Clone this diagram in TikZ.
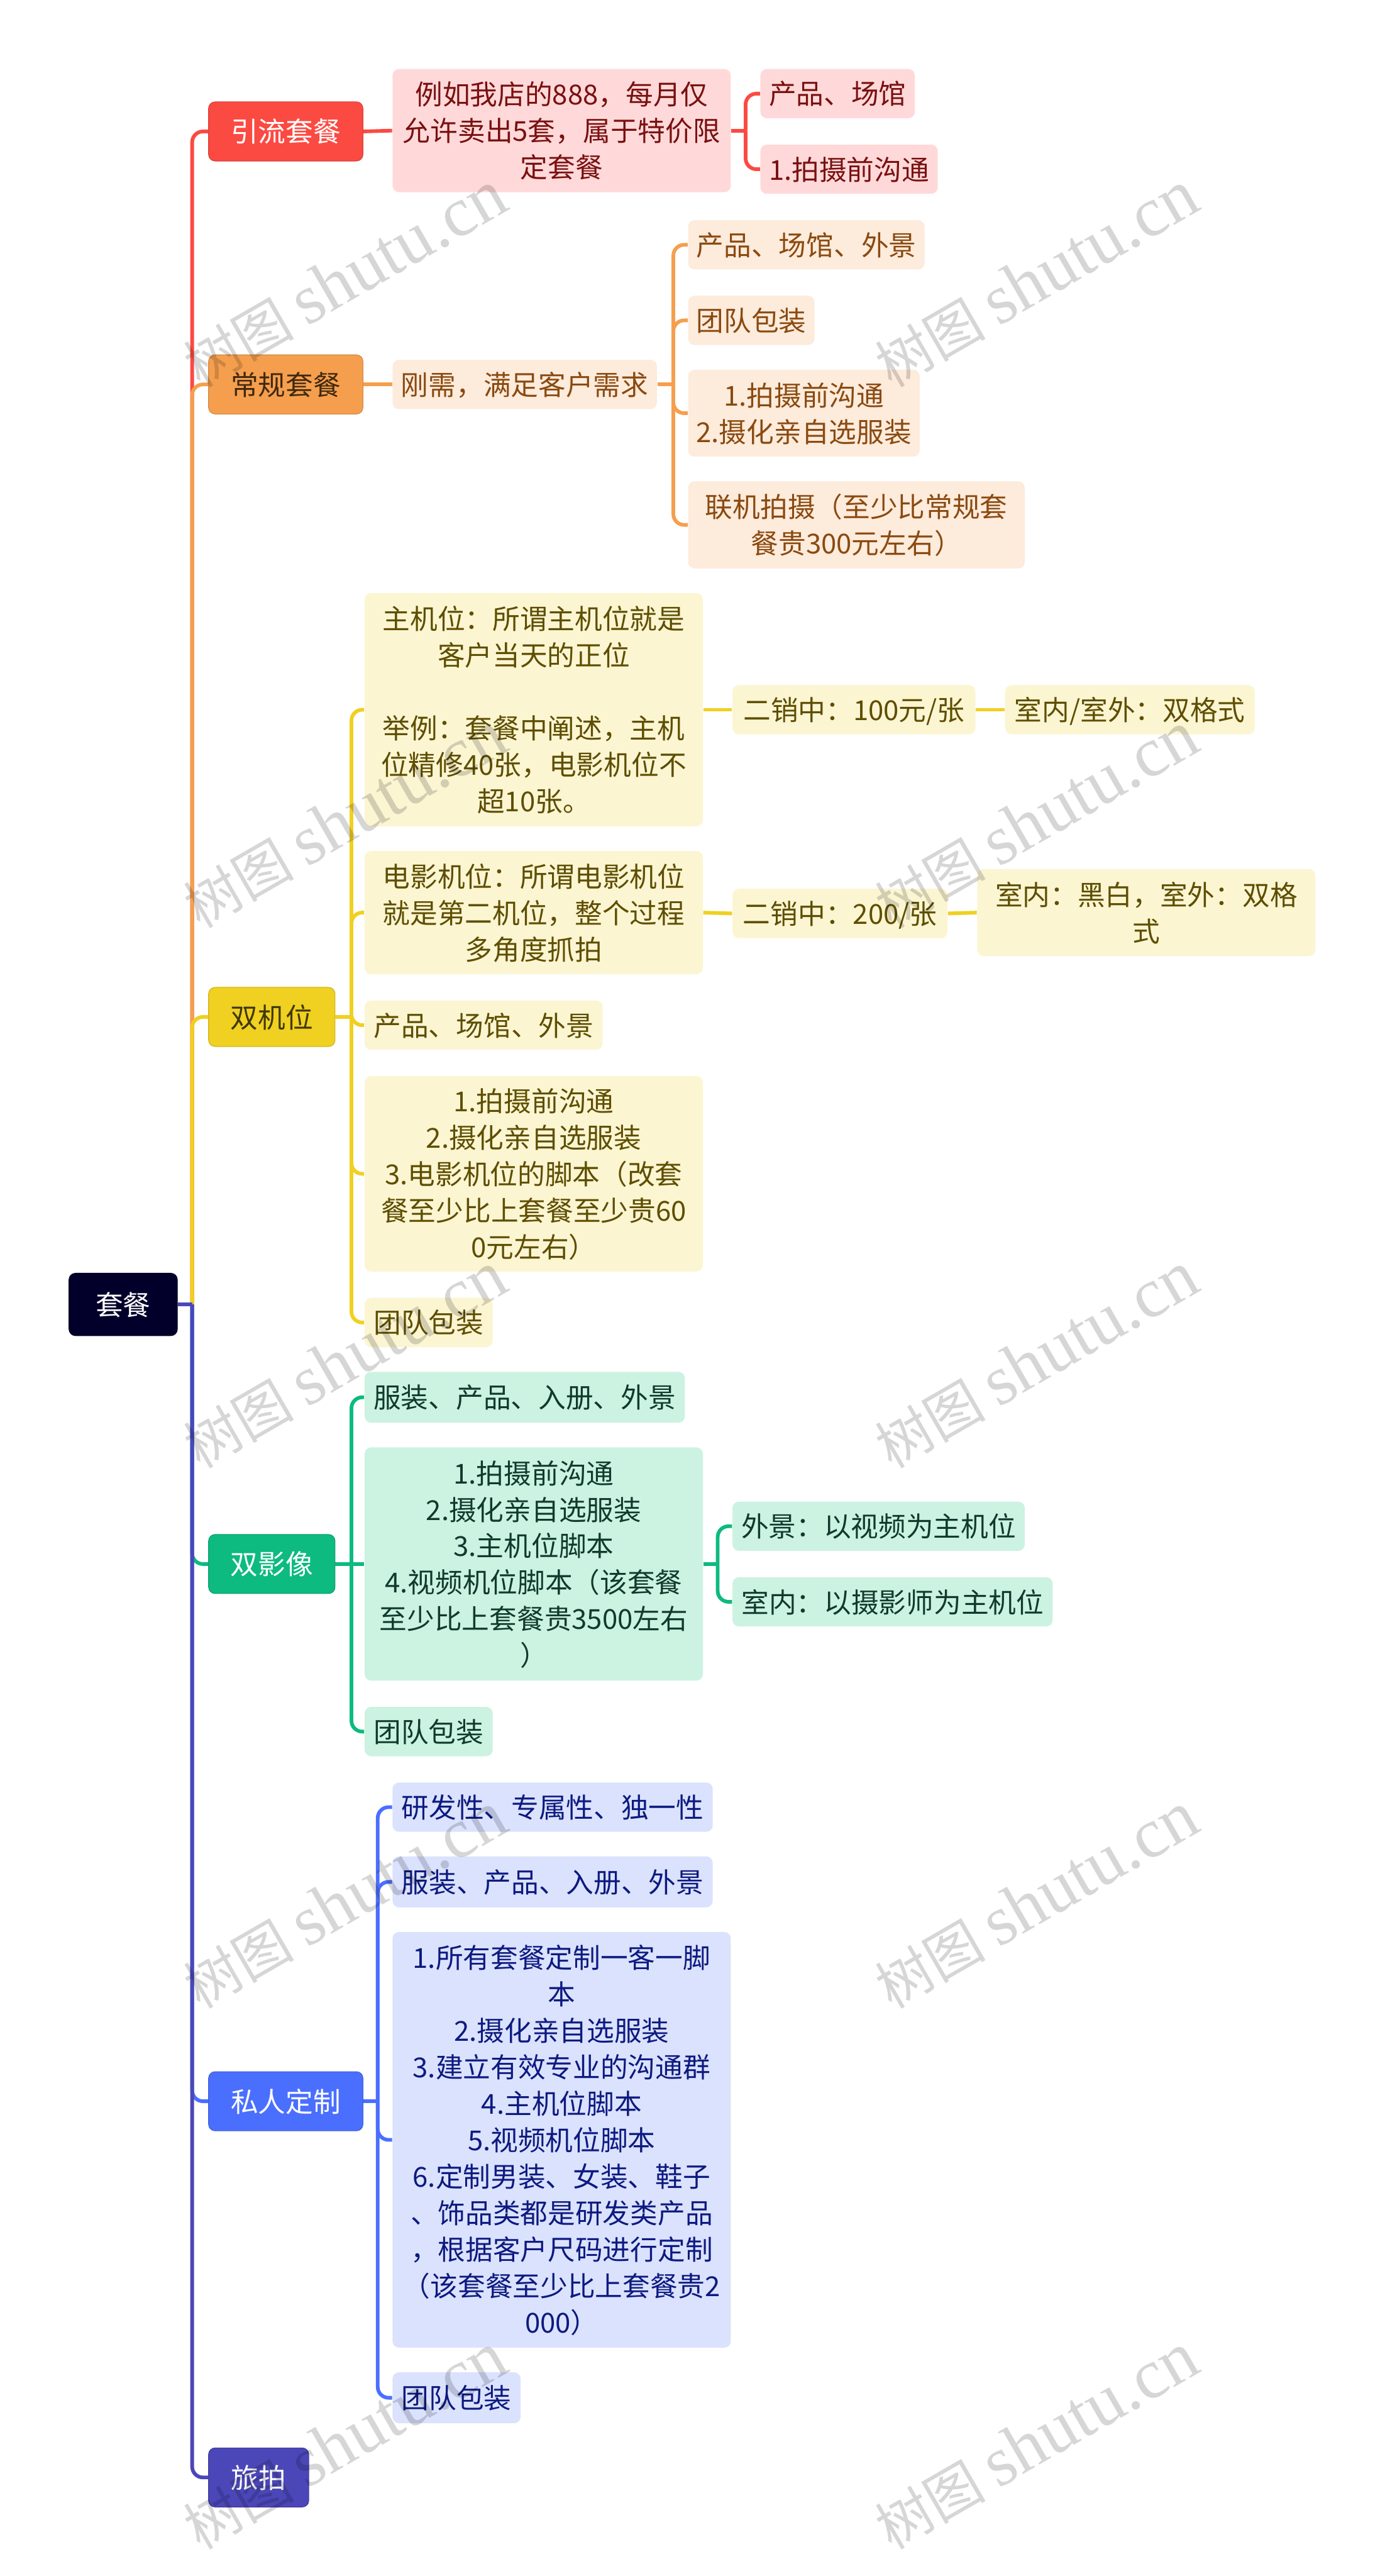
\documentclass[tikz,border=0pt]{standalone}
\usepackage{fontspec}
\setmainfont{Noto Sans CJK SC}
\newfontfamily\markfont{Liberation Serif}
\usetikzlibrary{positioning}

\definecolor{rootfill}{HTML}{02002A}
\definecolor{redline}{HTML}{FB4A42}
\definecolor{redfill}{HTML}{FFD9D9}
\definecolor{redtext}{HTML}{7A1010}
\definecolor{orangeline}{HTML}{F59F4E}
\definecolor{orangefill}{HTML}{FDEBDC}
\definecolor{orangetext}{HTML}{8A4A10}
\definecolor{orangedark}{HTML}{40290F}
\definecolor{yellowline}{HTML}{F0D020}
\definecolor{yellowfill}{HTML}{FBF5D2}
\definecolor{yellowtext}{HTML}{5E4E00}
\definecolor{yellowdark}{HTML}{40380A}
\definecolor{greenline}{HTML}{0DBA80}
\definecolor{greenfill}{HTML}{CCF2E2}
\definecolor{greentext}{HTML}{103A2C}
\definecolor{blueline}{HTML}{4A6FFF}
\definecolor{bluefill}{HTML}{DBE2FD}
\definecolor{bluetext}{HTML}{0D1A80}
\definecolor{purpleline}{HTML}{4B47B8}
\definecolor{stampgray}{HTML}{D6D6D6}

\tikzset{
  sized/.style 2 args={minimum width=#1*0.7592pt, minimum height=#2*0.7592pt},
  card/.style={rounded corners=3pt, inner sep=0pt, align=center, text depth=0.8pt,
    font=\fontsize{12.7}{16.85}\selectfont},
  topic/.style={card, fill=#1, draw=#1!85!black, line width=0.3pt},
  redkid/.style={card, fill=redfill, text=redtext},
  orangekid/.style={card, fill=orangefill, text=orangetext},
  yellowkid/.style={card, fill=yellowfill, text=yellowtext},
  greenkid/.style={card, fill=greenfill, text=greentext},
  bluekid/.style={card, fill=bluefill, text=bluetext},
  link/.style={line width=1.7pt, rounded corners=5pt},
  stampmark/.style={rotate=30, text=stampgray, blend mode=multiply,
    font=\fontsize{25.6}{30}\selectfont}
}
\newcommand{\stamptext}{树图 {\markfont\fontsize{32.5}{30}\selectfont shutu.cn}}

\begin{document}
\begin{tikzpicture}[x=0.7592pt, y=-0.7592pt]
    \useasboundingbox (0, 0) rectangle (843, 1568);

    \node [topic=rootfill, text=white, sized={66}{38}] (root) at (75, 794) {套餐};

    \node [topic=redline, text=white, sized={94}{36}] (lead) at (174, 80) {引流套餐};
    \node [topic=orangeline, text=orangedark, sized={94}{36}] (regular) at (174, 234) {常规套餐};
    \node [topic=yellowline, text=yellowdark, sized={77}{36}] (dualcam) at (165.5, 619) {双机位};
    \node [topic=greenline, text=white, sized={77}{36}] (dualimg) at (165.5, 952) {双影像};
    \node [topic=blueline, text=white, sized={94}{36}] (custom) at (174, 1279) {私人定制};
    \node [topic=purpleline, text=white, sized={61}{36}] (travel) at (157.5, 1508) {旅拍};

    \node [redkid, sized={206}{75}] (leadnote) at (342, 79.5) {%
      例如我店的888，每月仅 \\
      允许卖出5套，属于特价限 \\
      定套餐
    };
    \node [redkid, sized={94}{30}] (leadprod) at (510, 57) {产品、场馆};
    \node [redkid, sized={108}{30}] (leadtalk) at (517, 103) {1.拍摄前沟通};

    \node [orangekid, sized={161}{30}] (regnote) at (319.5, 234) {刚需，满足客户需求};
    \node [orangekid, sized={144}{30}] (regprod) at (491, 149) {产品、场馆、外景};
    \node [orangekid, sized={77}{30}] (regteam) at (457.5, 195) {团队包装};
    \node [orangekid, sized={141}{53}] (regtalk) at (489.5, 251.5) {%
      1.拍摄前沟通 \\
      2.摄化亲自选服装
    };
    \node [orangekid, sized={205}{53}] (reglink) at (521.5, 319.5) {%
      联机拍摄（至少比常规套 \\
      餐贵300元左右）
    };

    \node [yellowkid, sized={206}{142}] (maincam) at (325, 432) {%
      主机位：所谓主机位就是 \\
      客户当天的正位 \\
      ~ \\
      举例：套餐中阐述，主机 \\
      位精修40张，电影机位不 \\
      超10张。
    };
    \node [yellowkid, sized={148}{30}] (mainsale) at (520, 432) {二销中：100元/张};
    \node [yellowkid, sized={152}{30}] (mainform) at (688, 432) {室内/室外：双格式};
    \node [yellowkid, sized={206}{75}] (filmcam) at (325, 555.5) {%
      电影机位：所谓电影机位 \\
      就是第二机位，整个过程 \\
      多角度抓拍
    };
    \node [yellowkid, sized={131}{30}] (filmsale) at (511.5, 556) {二销中：200/张};
    \node [yellowkid, sized={206}{53}] (filmform) at (698, 555.5) {%
      室内：黑白，室外：双格 \\
      式
    };
    \node [yellowkid, sized={145}{30}] (camprod) at (294.5, 624) {产品、场馆、外景};
    \node [yellowkid, sized={206}{119}] (camtalk) at (325, 714.5) {%
      1.拍摄前沟通 \\
      2.摄化亲自选服装 \\
      3.电影机位的脚本（改套 \\
      餐至少比上套餐至少贵60 \\
      0元左右）
    };
    \node [yellowkid, sized={78}{30}] (camteam) at (261, 805) {团队包装};

    \node [greenkid, sized={195}{31}] (imgprod) at (319.5, 850.5) {服装、产品、入册、外景};
    \node [greenkid, sized={206}{142}] (imgtalk) at (325, 952) {%
      1.拍摄前沟通 \\
      2.摄化亲自选服装 \\
      3.主机位脚本 \\
      4.视频机位脚本（该套餐 \\
      至少比上套餐贵3500左右 \\
      ）
    };
    \node [greenkid, sized={178}{30}] (imgout) at (535, 929) {外景：以视频为主机位};
    \node [greenkid, sized={195}{30}] (imgin) at (543.5, 975) {室内：以摄影师为主机位};
    \node [greenkid, sized={78}{30}] (imgteam) at (261, 1054) {团队包装};

    \node [bluekid, sized={195}{30}] (cusdev) at (336.5, 1100) {研发性、专属性、独一性};
    \node [bluekid, sized={195}{31}] (cusprod) at (336.5, 1145.5) {服装、产品、入册、外景};
    \node [bluekid, sized={206}{253}] (custalk) at (342, 1302.5) {%
      1.所有套餐定制一客一脚 \\
      本 \\
      2.摄化亲自选服装 \\
      3.建立有效专业的沟通群 \\
      4.主机位脚本 \\
      5.视频机位脚本 \\
      6.定制男装、女装、鞋子 \\
      、饰品类都是研发类产品 \\
      ，根据客户尺码进行定制 \\
      （该套餐至少比上套餐贵2 \\
      000）
    };
    \node [bluekid, sized={78}{31}] (custeam) at (278, 1459.5) {团队包装};

    \coordinate (rootj) at (117, 794);
    \coordinate (leadj) at (454, 79.5);
    \coordinate (regj) at (410, 234);
    \coordinate (camj) at (214, 619);
    \coordinate (imgj) at (214, 952);
    \coordinate (imgsub) at (437, 952);
    \coordinate (cusj) at (230, 1279);

    \draw [link, redline] (rootj) |- (lead.west);
    \draw [link, orangeline] (rootj) |- (regular.west);
    \draw [link, yellowline] (rootj) |- (dualcam.west);
    \draw [link, greenline] (rootj) |- (dualimg.west);
    \draw [link, blueline] (rootj) |- (custom.west);
    \draw [link, purpleline] (rootj) |- (travel.west);
    \draw [link, purpleline] (root.east) -- (rootj);

    \draw [link, redline] (lead.east) -- (leadnote.west);
    \draw [link, redline] (leadnote.east) -- (leadj);
    \draw [link, redline] (leadj) |- (leadprod.west);
    \draw [link, redline] (leadj) |- (leadtalk.west);

    \draw [link, orangeline] (regular.east) -- (regnote.west);
    \draw [link, orangeline] (regnote.east) -- (regj);
    \draw [link, orangeline] (regj) |- (regprod.west);
    \draw [link, orangeline] (regj) |- (regteam.west);
    \draw [link, orangeline] (regj) |- (regtalk.west);
    \draw [link, orangeline] (regj) |- (reglink.west);

    \draw [link, yellowline] (dualcam.east) -- (camj);
    \draw [link, yellowline] (camj) |- (maincam.west);
    \draw [link, yellowline] (camj) |- (filmcam.west);
    \draw [link, yellowline] (camj) |- (camprod.west);
    \draw [link, yellowline] (camj) |- (camtalk.west);
    \draw [link, yellowline] (camj) |- (camteam.west);
    \draw [link, yellowline] (maincam.east) -- (mainsale.west);
    \draw [link, yellowline] (mainsale.east) -- (mainform.west);
    \draw [link, yellowline] (filmcam.east) -- (filmsale.west);
    \draw [link, yellowline] (filmsale.east) -- (filmform.west);

    \draw [link, greenline] (dualimg.east) -- (imgj);
    \draw [link, greenline] (imgj) |- (imgprod.west);
    \draw [link, greenline] (imgj) -- (imgtalk.west);
    \draw [link, greenline] (imgj) |- (imgteam.west);
    \draw [link, greenline] (imgtalk.east) -- (imgsub);
    \draw [link, greenline] (imgsub) |- (imgout.west);
    \draw [link, greenline] (imgsub) |- (imgin.west);

    \draw [link, blueline] (custom.east) -- (cusj);
    \draw [link, blueline] (cusj) |- (cusdev.west);
    \draw [link, blueline] (cusj) |- (cusprod.west);
    \draw [link, blueline] (cusj) |- (custalk.west);
    \draw [link, blueline] (cusj) |- (custeam.west);

    \node [stampmark] (stampa) at (210, 170) {\stamptext};
    \node [stampmark] (stampb) at (631, 170) {\stamptext};
    \node [stampmark] (stampc) at (210, 499) {\stamptext};
    \node [stampmark] (stampd) at (631, 499) {\stamptext};
    \node [stampmark] (stampe) at (210, 828) {\stamptext};
    \node [stampmark] (stampf) at (631, 828) {\stamptext};
    \node [stampmark] (stampg) at (210, 1157) {\stamptext};
    \node [stampmark] (stamph) at (631, 1157) {\stamptext};
    \node [stampmark] (stampi) at (210, 1486) {\stamptext};
    \node [stampmark] (stampj) at (631, 1486) {\stamptext};
  \end{tikzpicture}
\end{document}
